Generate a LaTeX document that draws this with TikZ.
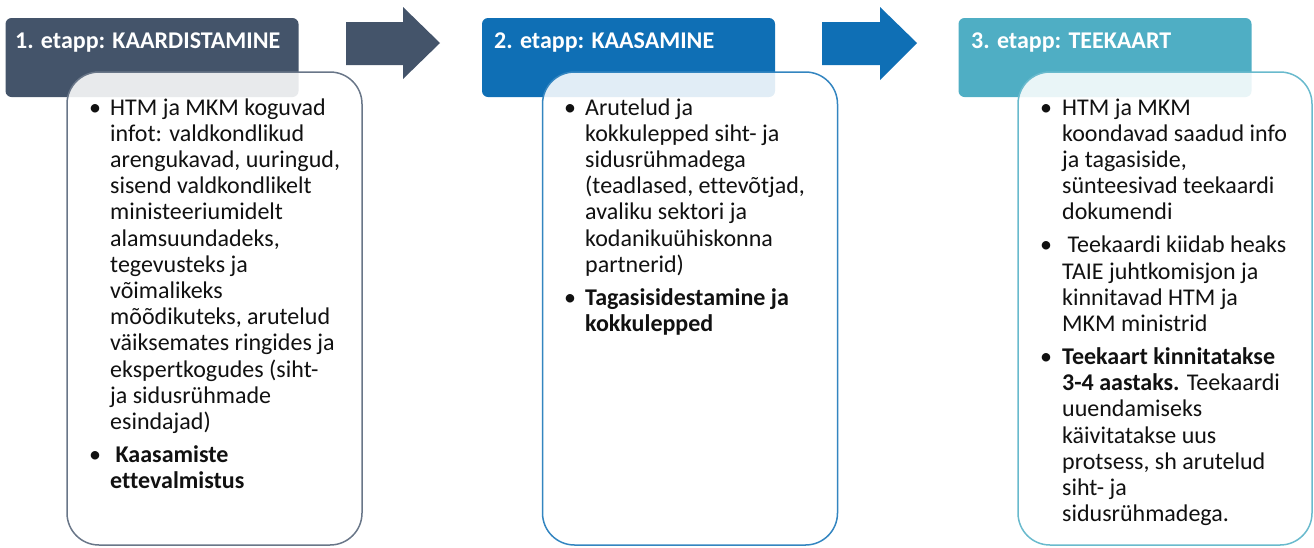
\documentclass[tikz,border=0pt]{standalone}
\usepackage{fontspec}
\setmainfont{Carlito}[Ligatures=NoCommon]
\definecolor{cone}{HTML}{44546A}
\definecolor{ctwo}{HTML}{0F6FB5}
\definecolor{cthree}{HTML}{4FAEC4}
\definecolor{ctext}{HTML}{111111}
\tikzset{
  headbox/.style={draw=none, rounded corners=6pt, minimum width=293pt, minimum height=79pt, inner sep=0pt},
  bodybox/.style={fill=white, fill opacity=0.88, line width=1.5pt, rounded corners=32pt, minimum width=295pt, minimum height=473pt, inner sep=0pt},
  headtext/.style={anchor=base west, inner sep=0pt, text=white, font=\fontsize{24}{28}\selectfont\bfseries},
  bodytext/.style={anchor=base west, inner sep=0pt, text=ctext},
  bul/.style={anchor=base, inner sep=0pt, text=ctext, font=\fontsize{24}{26.2}\selectfont}
}
\newcommand{\btext}[1]{\parbox[t]{290pt}{\fontsize{24}{26.2}\selectfont\raggedright #1}}
\begin{document}
\begin{tikzpicture}[x=1pt,y=-1pt]
\useasboundingbox (0,0) rectangle (1314,547);
% headers
\node[headbox, fill=cone] (h1) at (152,57.5) {};
\node[headbox, fill=ctwo] (h2) at (628.5,57.5) {};
\node[headbox, fill=cthree] (h3) at (1105,57.5) {};
\node[headtext] (t1) at (15,48) {1. etapp: KAARDISTAMINE};
\node[headtext] (t2) at (494,48) {2. etapp: KAASAMINE};
\node[headtext] (t3) at (971,48) {3. etapp: TEEKAART};
% arrows
\fill[cone] (346,22) -- (403,22) -- (403,7) -- (440,43) -- (403,79) -- (403,65) -- (346,65) -- cycle;
\fill[ctwo] (822,22) -- (880,22) -- (880,7) -- (917,43) -- (880,80) -- (880,65) -- (822,65) -- cycle;
% bodies
\node[bodybox, draw=cone!80] (b1) at (214.5,308.5) {};
\node[bodybox, draw=ctwo!85] (b2) at (690,308.5) {};
\node[bodybox, draw=cthree!85, minimum width=294pt] (b3) at (1165,308.5) {};
% box 1 text
\node[bul] (b1a) at (95,115) {•};
\node[bodytext] (p1a) at (110,115) {\btext{HTM ja MKM koguvad\\ infot: valdkondlikud\\ arengukavad, uuringud,\\ sisend valdkondlikelt\\ ministeeriumidelt\\ alamsuundadeks,\\ tegevusteks ja\\ võimalikeks\\ mõõdikuteks, arutelud\\ väiksemates ringides ja\\ ekspertkogudes (siht-\\ ja sidusrühmade\\ esindajad)}};
\node[bul] (b1b) at (95,462.4) {•};
\node[bodytext] (p1b) at (110,462.4) {\btext{\bfseries\ Kaasamiste\\ ettevalmistus}};
% box 2 text
\node[bul] (b2a) at (570,115) {•};
\node[bodytext] (p2a) at (585,115) {\btext{Arutelud ja\\ kokkulepped siht- ja\\ sidusrühmadega\\ (teadlased, ettevõtjad,\\ avaliku sektori ja\\ kodanikuühiskonna\\ partnerid)}};
\node[bul] (b2b) at (570,305.2) {•};
\node[bodytext] (p2b) at (585,305.2) {\btext{\bfseries Tagasisidestamine ja\\ kokkulepped}};
% box 3 text
\node[bul] (b3a) at (1046,115) {•};
\node[bodytext] (p3a) at (1062,115) {\btext{HTM ja MKM\\ koondavad saadud info\\ ja tagasiside,\\ sünteesivad teekaardi\\ dokumendi}};
\node[bul] (b3b) at (1046,252.8) {•};
\node[bodytext] (p3b) at (1062,252.8) {\btext{\ Teekaardi kiidab heaks\\ TAIE juhtkomisjon ja\\ kinnitavad HTM ja\\ MKM ministrid}};
\node[bul] (b3c) at (1046,364.4) {•};
\node[bodytext] (p3c) at (1062,364.4) {\btext{\textbf{Teekaart kinnitatakse}\\ \textbf{3-4 aastaks.} Teekaardi\\ uuendamiseks\\ käivitatakse uus\\ protsess, sh arutelud\\ siht- ja\\ sidusrühmadega.}};
\end{tikzpicture}
\end{document}
